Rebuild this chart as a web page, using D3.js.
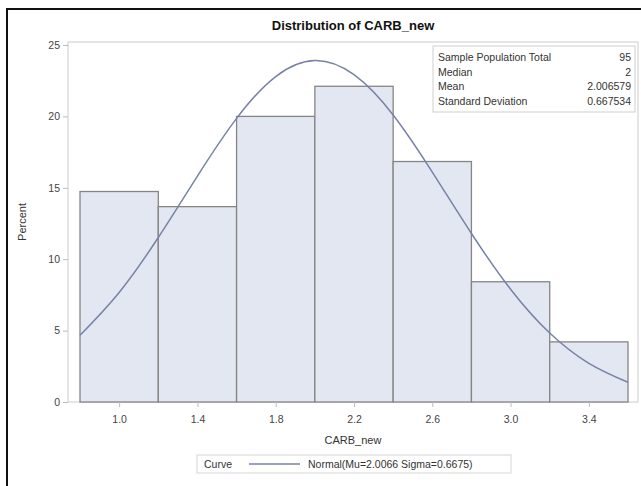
<!DOCTYPE html>
<html><head><meta charset="utf-8">
<script src="https://cdn.jsdelivr.net/npm/d3@7"></script>
<style>
html,body{margin:0;padding:0;background:#fff;}
svg{display:block;font-family:"Liberation Sans",Arial,sans-serif;}
</style></head>
<body><svg id="c" width="641" height="486"></svg>
<script>
// ---- data ----
const binEdges = [0.8, 1.2, 1.6, 2.0, 2.4, 2.8, 3.2, 3.6];
const binPercents = [14.74, 13.68, 20.0, 22.11, 16.84, 8.42, 4.21];
const xTicks = [1.0, 1.4, 1.8, 2.2, 2.6, 3.0, 3.4];
const yTicks = [0, 5, 10, 15, 20, 25];
const curveX = [0.8, 1.0, 1.2, 1.4, 1.6, 1.8, 2.0, 2.2, 2.4, 2.6, 2.8, 3.0, 3.2, 3.4, 3.6];
const curveY = [4.67, 7.67, 11.52, 15.82, 19.86, 22.79, 23.91, 22.92, 20.10, 16.10, 11.80, 7.90, 4.83, 2.71, 1.38];
const statLabels = ["Sample Population Total", "Median", "Mean", "Standard Deviation"];
const statValues = ["95", "2", "2.006579", "0.667534"];
const title = "Distribution of CARB_new";
const xLabel = "CARB_new";
const yLabel = "Percent";
const legendTitle = "Curve";
const legendLabel = "Normal(Mu=2.0066 Sigma=0.6675)";

const svg = d3.select("#c");
// outer black border
svg.append("path").attr("d","M7,487 V9 H642").attr("fill","none").attr("stroke","#111").attr("stroke-width",2);

const frame = {l:68, r:638, t:42, b:402};
const x = d3.scaleLinear().domain([0.8,3.6]).range([80,628]);
const y = d3.scaleLinear().domain([0,25]).range([402,45]);

svg.append("text").attr("x",(frame.l+frame.r)/2).attr("y",30).attr("text-anchor","middle")
  .attr("font-size",13).attr("font-weight","bold").attr("fill","#111").text(title);

// plot frame
svg.append("rect").attr("x",frame.l).attr("y",frame.t).attr("width",frame.r-frame.l).attr("height",frame.b-frame.t)
  .attr("fill","none").attr("stroke","#d4d4d4").attr("stroke-width",1.2);

// bars
const bins = binPercents.map((v,i)=>({x0:binEdges[i],x1:binEdges[i+1],v}));
svg.append("g").selectAll("rect").data(bins).join("rect")
  .attr("x",d=>x(d.x0)).attr("width",d=>x(d.x1)-x(d.x0))
  .attr("y",d=>y(d.v)).attr("height",d=>y(0)-y(d.v))
  .attr("fill","#e3e7f1").attr("stroke","#858585").attr("stroke-width",1.3);

// curve
const pts = curveX.map((v,i)=>[v,curveY[i]]);
svg.append("path").datum(pts)
  .attr("d",d3.line().x(d=>x(d[0])).y(d=>y(d[1])).curve(d3.curveNatural))
  .attr("fill","none").attr("stroke","#7882a8").attr("stroke-width",1.5);

// axes
const yAxis = svg.append("g").attr("transform",`translate(${frame.l},0)`)
  .call(d3.axisLeft(y).tickValues(yTicks).tickSize(5).tickPadding(3));
const xAxis = svg.append("g").attr("transform",`translate(0,${frame.b})`)
  .call(d3.axisBottom(x).tickValues(xTicks).tickFormat(d3.format(".1f")).tickSize(5).tickPadding(9));
[yAxis,xAxis].forEach(a=>{
  a.select(".domain").remove();
  a.selectAll("line").attr("stroke","#bbb");
  a.selectAll("text").attr("fill","#444").attr("font-size",10.5).attr("font-family","'Liberation Sans',Arial,sans-serif");
});

svg.append("text").attr("x",(frame.l+frame.r)/2).attr("y",444).attr("text-anchor","middle")
  .attr("font-size",11).attr("fill","#333").text(xLabel);
svg.append("text").attr("transform","translate(26,222) rotate(-90)").attr("text-anchor","middle")
  .attr("font-size",11).attr("fill","#333").text(yLabel);

// stats inset
const sb = {x:433,y:46,w:202,h:66};
svg.append("rect").attr("x",sb.x).attr("y",sb.y).attr("width",sb.w).attr("height",sb.h)
  .attr("fill","#fff").attr("stroke","#cfcfcf");
const sg = svg.append("g");
statLabels.forEach((s,i)=>{
  const yy = sb.y + 15 + i*14.7;
  sg.append("text").attr("x",sb.x+5).attr("y",yy).attr("font-size",10.5).attr("fill","#333").text(s);
  sg.append("text").attr("x",sb.x+sb.w-4).attr("y",yy).attr("text-anchor","end").attr("font-size",10.5).attr("fill","#333").text(statValues[i]);
});

// legend
const lg = {x:197,y:455,w:314,h:18};
svg.append("rect").attr("x",lg.x).attr("y",lg.y).attr("width",lg.w).attr("height",lg.h)
  .attr("fill","#fff").attr("stroke","#d6d6d6");
svg.append("text").attr("x",lg.x+7).attr("y",lg.y+13).attr("font-size",10.5).attr("fill","#333").text(legendTitle);
svg.append("line").attr("x1",249).attr("x2",300).attr("y1",lg.y+9).attr("y2",lg.y+9)
  .attr("stroke","#7882a8").attr("stroke-width",1.5);
svg.append("text").attr("x",308).attr("y",lg.y+13).attr("font-size",10.5).attr("fill","#333").text(legendLabel);
</script></body></html>
